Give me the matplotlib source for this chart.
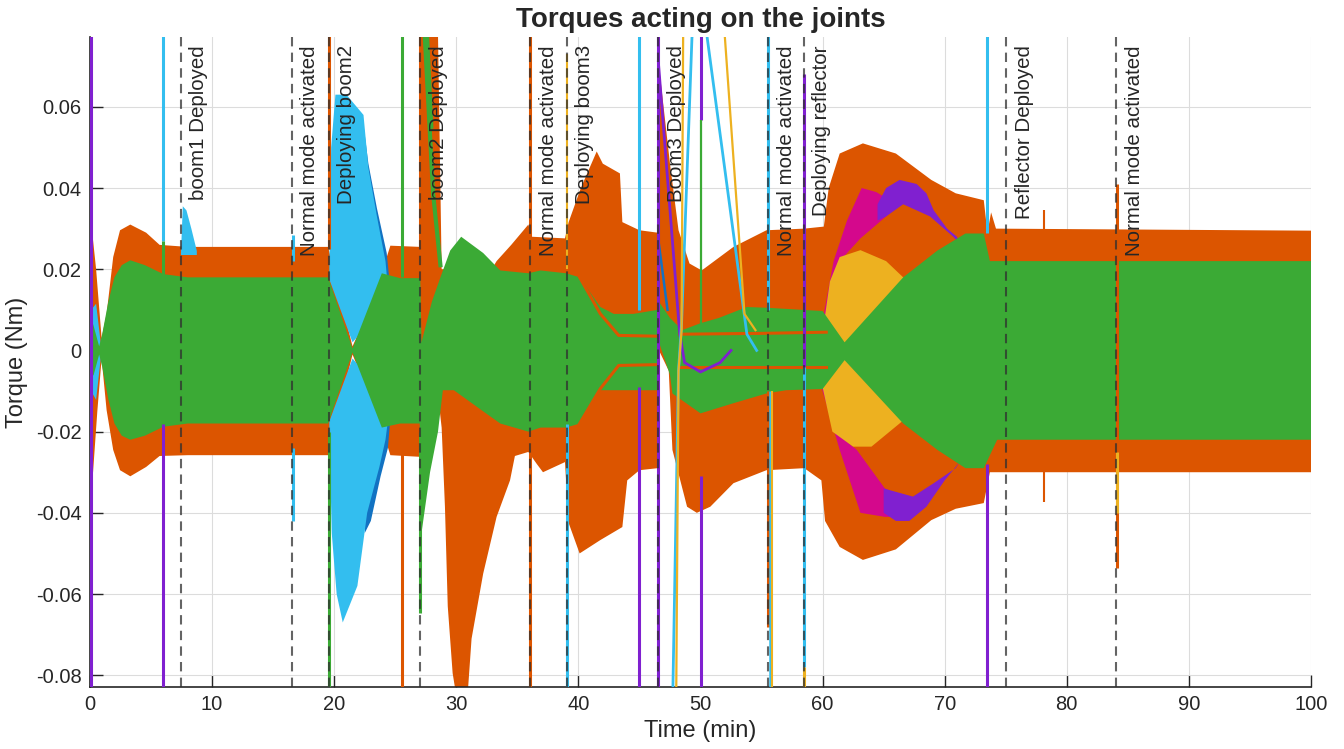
import numpy as np
import matplotlib
matplotlib.use("Agg")
import matplotlib.pyplot as plt

plt.rcParams['font.family'] = ['Liberation Sans', 'DejaVu Sans']

# ---- colours of the joint torque traces ----
C_ORANGE = '#DC5500'
C_GREEN = '#3BAA35'
C_LBLUE = '#33BEEF'
C_DBLUE = '#1272C2'
C_YELLOW = '#EDB120'
C_PURPLE = '#8020D0'
C_MAGENTA = '#D4088C'
TXT = '#262626'

# ---- event markers (min) ----
event_times = [7.45, 16.55, 19.55, 27.05, 36.05, 39.05, 46.55, 55.55, 58.45, 75.05, 84.05]
event_labels = ['boom1 Deployed', 'Normal mode activated', 'Deploying boom2',
                'boom2 Deployed', 'Normal mode activated', 'Deploying boom3',
                'Boom3 Deployed', 'Normal mode activated', 'Deploying reflector',
                'Reflector Deployed', 'Normal mode activated']

# ---- oscillation envelopes (time in min, torque in Nm) ----
orange_up_t = [0.0, 0.15, 0.5, 0.95, 1.36, 1.9, 2.46, 3.3, 4.6, 5.7, 8.0, 19.5, 21.5, 23.0, 24.2, 24.6,
               27.05, 27.1, 28.5, 28.75, 28.8, 32.9, 33.3, 34.5, 35.9, 36.2, 38.9, 39.2, 40.2, 41.5,
               42.0, 43.4, 43.6, 45.0, 46.5, 46.6, 47.5, 48.2, 49.1, 50.1, 52.7, 55.4, 58.5, 60.1,
               60.5, 61.4, 63.3, 66.0, 68.9, 70.9, 73.2, 73.5, 73.8, 74.2, 100.0]
orange_up = [0.0335, 0.030, 0.020, 0.003, 0.009, 0.023, 0.0296, 0.031, 0.029, 0.026, 0.0255, 0.0255,
             0.001, 0.011, 0.022, 0.0258, 0.0255, 0.078, 0.078, 0.030, 0.020, 0.020, 0.022, 0.026,
             0.031, 0.028, 0.0276, 0.0316, 0.040, 0.049, 0.046, 0.0436, 0.0316, 0.0296, 0.029,
             0.070, 0.046, 0.0296, 0.0214, 0.0197, 0.0255, 0.0296, 0.030, 0.0305, 0.040, 0.0485,
             0.051, 0.0485, 0.042, 0.0387, 0.037, 0.029, 0.034, 0.030, 0.0295]
orange_lo_t = [0.0, 0.1, 0.25, 0.6, 0.95, 1.36, 1.9, 2.46, 3.3, 4.6, 5.7, 8.0, 19.5, 21.5, 23.0, 24.2,
               24.6, 27.0, 27.1, 28.5, 28.8, 29.07, 29.3, 29.7, 30.05, 30.9, 31.25, 32.2, 33.3, 34.4,
               34.8, 35.9, 36.6, 37.1, 38.9, 39.2, 40.1, 41.8, 43.6, 44.0, 45.0, 46.5, 46.6, 47.4,
               47.7, 48.9, 49.7, 50.8, 52.7, 55.4, 58.5, 59.9, 60.2, 61.4, 63.3, 66.0, 68.9, 70.9,
               73.2, 73.7, 100.0]
orange_lo = [-0.012, -0.033, -0.030, -0.015, -0.002, -0.0147, -0.0245, -0.0295, -0.031, -0.0287,
             -0.026, -0.0258, -0.0258, -0.001, -0.012, -0.022, -0.0258, -0.0262, -0.012, -0.011,
             -0.019, -0.0385, -0.063, -0.0795, -0.086, -0.086, -0.071, -0.055, -0.041, -0.032,
             -0.026, -0.025, -0.028, -0.030, -0.0275, -0.0425, -0.050, -0.0467, -0.0435, -0.032,
             -0.0295, -0.029, 0.0, -0.005, -0.0245, -0.0385, -0.040, -0.0385, -0.0327, -0.0295,
             -0.029, -0.032, -0.042, -0.0484, -0.0516, -0.049, -0.0418, -0.039, -0.0376, -0.030,
             -0.030]

green_up_t = [0.0, 0.3, 0.75, 1.0, 1.5, 2.0, 2.6, 3.3, 4.5, 6.0, 8.0, 19.5, 21.5, 23.9, 25.4, 27.05,
              27.15, 28.0, 28.7, 29.5, 30.4, 32.2, 33.6, 35.9, 36.9, 39.0, 40.1, 41.8, 42.9, 44.5,
              46.5, 46.6, 47.5, 48.5, 50.0, 51.5, 53.8, 55.5, 60.0, 61.8, 66.6, 69.4, 71.7, 73.2,
              73.7, 100.0]
green_up = [0.009, 0.006, 0.001, 0.004, 0.012, 0.018, 0.021, 0.0222, 0.021, 0.0188, 0.018, 0.018,
            0.0005, 0.019, 0.0178, 0.0178, 0.002, 0.012, 0.018, 0.0246, 0.028, 0.024, 0.0197, 0.019,
            0.0197, 0.019, 0.018, 0.0107, 0.009, 0.009, 0.010, 0.012, 0.008, 0.005, 0.0067, 0.008,
            0.0107, 0.0105, 0.0097, 0.002, 0.018, 0.0246, 0.0288, 0.0288, 0.022, 0.022]
green_lo_t = [0.0, 0.3, 0.75, 1.0, 1.5, 2.0, 2.6, 3.3, 4.5, 6.0, 8.0, 19.5, 21.5, 23.9, 25.4, 27.0,
              27.15, 27.85, 28.5, 28.9, 29.8, 32.2, 33.6, 35.9, 36.9, 39.0, 40.1, 41.8, 46.5, 46.6,
              47.5, 47.7, 50.0, 52.7, 55.4, 57.0, 60.0, 61.8, 66.6, 69.4, 71.7, 73.2, 74.3, 100.0]
green_lo = [-0.0073, -0.006, -0.001, -0.004, -0.012, -0.018, -0.021, -0.022, -0.021, -0.0188,
            -0.018, -0.018, -0.0005, -0.019, -0.018, -0.018, -0.045, -0.030, -0.020, -0.0098,
            -0.0098, -0.015, -0.018, -0.020, -0.019, -0.019, -0.018, -0.0098, -0.0098, 0.002,
            -0.006, -0.0106, -0.0155, -0.013, -0.0106, -0.0098, -0.0095, -0.0024, -0.018, -0.0245,
            -0.029, -0.029, -0.022, -0.022]

# light blue bursts
lb_start_t = [0.0, 0.1, 0.5, 0.95]
lb_start_up = [0.002, 0.010, 0.0115, 0.0]
lb_start_lo = [-0.002, -0.010, -0.0122, 0.0]

lb_hump_t = [7.45, 7.6, 7.9, 8.3, 8.75]
lb_hump_up = [0.024, 0.0355, 0.0345, 0.030, 0.0245]
lb_hump_lo = [0.0235, 0.0235, 0.0235, 0.0235, 0.0235]

lb_pos_out_t = [19.6, 19.75, 20.1, 21.0, 22.4, 22.8, 23.5, 24.2, 24.5]
lb_pos_out = [0.020, 0.050, 0.063, 0.063, 0.058, 0.045, 0.033, 0.022, 0.012]
lb_pos_in_t = [19.6, 21.5, 24.5]
lb_pos_in = [0.0175, 0.002, 0.012]
lb_neg_out_t = [19.6, 19.8, 20.2, 20.7, 21.9, 22.7, 23.7, 24.2, 24.5]
lb_neg_out = [-0.020, -0.045, -0.060, -0.067, -0.058, -0.040, -0.0287, -0.022, -0.015]
lb_neg_in_t = [19.6, 21.5, 24.5]
lb_neg_in = [-0.0175, -0.002, -0.012]

db_pos_t = [22.3, 22.8, 23.5, 24.3, 24.7]
db_pos_out = [0.058, 0.046, 0.035, 0.024, 0.012]
db_pos_in = [0.030, 0.015, 0.010, 0.008, 0.006]
db_neg_t = [22.5, 23.0, 23.8, 24.4, 24.7]
db_neg_out = [-0.045, -0.042, -0.031, -0.024, -0.013]
db_neg_in = [-0.030, -0.015, -0.010, -0.008, -0.006]

# reflector deployment transients
mag_pos_out_t = [60.0, 60.9, 62.0, 63.2, 64.4, 65.5]
mag_pos_out = [0.0074, 0.022, 0.032, 0.040, 0.039, 0.037]
mag_pos_in_t = [60.0, 60.6, 61.4, 63.1, 65.2, 65.5]
mag_pos_in = [0.004, 0.012, 0.022, 0.0276, 0.033, 0.034]
mag_neg_out_t = [59.9, 61.4, 63.1, 65.1, 65.5]
mag_neg_out = [-0.009, -0.0245, -0.040, -0.041, -0.041]
mag_neg_in_t = [59.9, 60.8, 61.8, 62.8, 65.1, 65.5]
mag_neg_in = [-0.006, -0.019, -0.022, -0.0245, -0.034, -0.0345]

pur_pos_out_t = [64.5, 65.2, 66.3, 67.7, 68.5, 69.1, 70.2, 71.0, 71.3]
pur_pos_out = [0.036, 0.040, 0.042, 0.041, 0.0387, 0.0345, 0.030, 0.028, 0.026]
pur_pos_in_t = [64.5, 65.2, 66.6, 68.8, 70.7, 71.3]
pur_pos_in = [0.032, 0.033, 0.036, 0.033, 0.028, 0.026]
pur_neg_out_t = [65.0, 66.0, 67.1, 68.5, 70.0, 70.9, 71.3]
pur_neg_out = [-0.040, -0.042, -0.042, -0.0385, -0.032, -0.0287, -0.027]
pur_neg_in_t = [65.0, 67.4, 69.1, 70.9, 71.3]
pur_neg_in = [-0.034, -0.036, -0.0327, -0.029, -0.027]

yel_up_t = [59.7, 60.0, 60.6, 61.4, 63.1, 65.2, 66.6, 67.5]
yel_up = [0.002, 0.0043, 0.017, 0.023, 0.0247, 0.022, 0.018, 0.015]
yel_lo_t = [59.7, 60.8, 62.5, 64.0, 66.3, 67.5]
yel_lo = [-0.005, -0.020, -0.0237, -0.0237, -0.018, -0.015]

# inner orange component visible through the green band
ring1_t = [40.1, 41.8, 43.3, 46.5]
ring1_up = [0.018, 0.009, 0.0037, 0.0035]
ring1_lo = [-0.018, -0.0094, -0.0037, -0.0035]
ring2_t = [48.3, 55.0, 60.3]
ring2_up = [0.004, 0.0042, 0.0045]
ring2_lo = [-0.004, -0.004, -0.004]

# slow excursions after boom3 deployment
lb_line_t = [47.7, 48.2, 48.45, 49.3, 50.0, 50.55, 53.8, 54.6]
lb_line = [-0.09, -0.005, 0.0067, 0.077, 0.100, 0.077, 0.004, 0.0]
yel_line_t = [48.0, 48.2, 48.45, 48.6, 50.3, 52.0, 53.6, 54.5]
yel_line = [-0.09, -0.005, 0.005, 0.09, 0.15, 0.077, 0.009, 0.005]
pur_line_t = [46.55, 48.3, 48.7, 50.0, 51.6, 52.5]
pur_line = [0.071, 0.004, -0.003, -0.0053, -0.003, 0.0]
db_line_t = [46.6, 47.3]
db_line = [0.026, 0.010]
grn_line1_t = [27.2, 28.1, 28.7]
grn_line1 = [0.090, 0.0386, 0.021]
grn_line2_t = [27.45, 28.0]
grn_line2 = [0.090, 0.055]

# short impulsive spikes: time, low, high, colour, width
spike_t = [0.05, 6.0, 6.0, 6.0, 16.65, 16.65, 19.55, 19.55, 25.55, 25.55, 27.05, 27.05,
           36.05, 36.05, 39.1, 39.1, 45.0, 45.0, 46.55, 50.0, 50.0, 50.05, 55.55, 55.5,
           55.7, 55.85, 58.45, 58.45, 58.45, 73.5, 73.5, 84.15, 84.15, 78.1, 78.1]
spike_lo = [-0.09, 0.027, 0.018, -0.09, 0.022, -0.042, 0.025, -0.09, 0.018, -0.09, 0.025, -0.0647,
            0.028, -0.09, 0.020, -0.09, 0.010, -0.09, -0.09, 0.0567, 0.006, -0.09, 0.010, -0.068,
            -0.09, -0.09, -0.004, -0.078, -0.09, 0.029, -0.09, -0.0537, -0.040, -0.0373, 0.028]
spike_hi = [0.09, 0.09, 0.027, -0.018, 0.0285, -0.024, 0.09, -0.020, 0.09, -0.020, 0.09, -0.020,
            0.09, -0.025, 0.073, -0.018, 0.09, -0.009, 0.09, 0.09, 0.0567, -0.031, 0.09, -0.010,
            -0.010, -0.010, 0.068, -0.004, -0.078, 0.09, -0.028, 0.041, -0.025, -0.028, 0.0345]
spike_c = ['P', 'L', 'G', 'P', 'L', 'L', 'O', 'G', 'G', 'O', 'O', 'G',
           'O', 'O', 'Y', 'L', 'L', 'P', 'P', 'P', 'G', 'P', 'L', 'O',
           'L', 'Y', 'P', 'L', 'Y', 'L', 'P', 'O', 'Y', 'O', 'O']
spike_w = [2.2, 2.2, 2.2, 2.2, 2.2, 2.2, 2.2, 2.2, 2.2, 2.2, 2.2, 2.2,
           2.2, 2.2, 1.5, 2.2, 2.2, 2.2, 2.2, 2.2, 1.6, 2.2, 2.2, 2.2,
           1.8, 1.5, 2.2, 2.2, 2.2, 2.2, 2.2, 2.2, 2.2, 1.5, 1.5]
cmap = {'P': C_PURPLE, 'L': C_LBLUE, 'G': C_GREEN, 'O': C_ORANGE, 'Y': C_YELLOW}


def band(ax, t_hi, y_hi, t_lo, y_lo, color, z):
    """Fill the region between an upper and a lower envelope."""
    xs = np.concatenate([np.asarray(t_hi), np.asarray(t_lo)[::-1]])
    ys = np.concatenate([np.asarray(y_hi), np.asarray(y_lo)[::-1]])
    ax.fill(xs, ys, color=color, lw=0, zorder=z)


fig = plt.figure(figsize=(13.44, 7.49), dpi=100)
ax = fig.add_axes([90 / 1344, 1 - 687 / 749, (1311 - 90) / 1344, (687 - 37) / 749])

band(ax, orange_up_t, orange_up, orange_lo_t, orange_lo, C_ORANGE, 1.0)
band(ax, db_pos_t, db_pos_out, db_pos_t, db_pos_in, C_DBLUE, 1.5)
band(ax, db_neg_t, db_neg_in, db_neg_t, db_neg_out, C_DBLUE, 1.5)
band(ax, lb_start_t, lb_start_up, lb_start_t, lb_start_lo, C_LBLUE, 1.6)
band(ax, lb_hump_t, lb_hump_up, lb_hump_t, lb_hump_lo, C_LBLUE, 1.6)
band(ax, lb_pos_out_t, lb_pos_out, lb_pos_in_t, lb_pos_in, C_LBLUE, 1.6)
band(ax, lb_neg_in_t, lb_neg_in, lb_neg_out_t, lb_neg_out, C_LBLUE, 1.6)
band(ax, mag_pos_out_t, mag_pos_out, mag_pos_in_t, mag_pos_in, C_MAGENTA, 1.8)
band(ax, mag_neg_in_t, mag_neg_in, mag_neg_out_t, mag_neg_out, C_MAGENTA, 1.8)
band(ax, pur_pos_out_t, pur_pos_out, pur_pos_in_t, pur_pos_in, C_PURPLE, 1.9)
band(ax, pur_neg_in_t, pur_neg_in, pur_neg_out_t, pur_neg_out, C_PURPLE, 1.9)
band(ax, yel_up_t, yel_up, yel_lo_t, yel_lo, C_YELLOW, 2.0)
band(ax, green_up_t, green_up, green_lo_t, green_lo, C_GREEN, 3.0)

for tt, yy in [(ring1_t, ring1_up), (ring1_t, ring1_lo), (ring2_t, ring2_up), (ring2_t, ring2_lo)]:
    ax.plot(tt, yy, color=C_ORANGE, lw=2.2, zorder=3.2)

ax.plot(grn_line1_t, grn_line1, color=C_GREEN, lw=3.0, zorder=3.3)
ax.plot(grn_line2_t, grn_line2, color=C_GREEN, lw=2.2, zorder=3.3)
ax.plot(db_line_t, db_line, color=C_DBLUE, lw=1.8, zorder=3.3)
ax.plot(pur_line_t, pur_line, color=C_PURPLE, lw=2.0, zorder=3.4)
ax.plot(lb_line_t, lb_line, color=C_LBLUE, lw=2.0, zorder=3.5)
ax.plot(yel_line_t, yel_line, color=C_YELLOW, lw=1.6, zorder=3.5)

for t, lo, hi, c, w in zip(spike_t, spike_lo, spike_hi, spike_c, spike_w):
    ax.vlines(t, lo, hi, colors=cmap[c], lw=w, zorder=3.6)

for t, lab in zip(event_times, event_labels):
    ax.axvline(t, color='#303030', lw=1.5, ls=(0, (4.5, 3)), alpha=0.75, zorder=4)
    ax.annotate(lab, xy=(t, 1.0), xycoords=('data', 'axes fraction'),
                xytext=(6, -6), textcoords='offset points', rotation=90,
                ha='left', va='top', fontsize=14.8, color=TXT, zorder=5)

ax.set_xlim(0, 100)
ax.set_ylim(-0.0829, 0.0772)
ax.set_xticks(np.arange(0, 101, 10))
ax.set_yticks([-0.08, -0.06, -0.04, -0.02, 0, 0.02, 0.04, 0.06])
ax.set_yticklabels(['-0.08', '-0.06', '-0.04', '-0.02', '0', '0.02', '0.04', '0.06'])
ax.grid(True, color='#DCDCDC', lw=0.8)
ax.set_axisbelow(True)
ax.tick_params(direction='in', length=9, width=1.0, colors=TXT, labelsize=14.5, pad=6)
for s in ['top', 'right']:
    ax.spines[s].set_visible(False)
for s in ['left', 'bottom']:
    ax.spines[s].set_color(TXT)
    ax.spines[s].set_linewidth(1.2)

ax.set_xlabel('Time (min)', fontsize=17, color=TXT, labelpad=4)
ax.set_ylabel('Torque (Nm)', fontsize=17, color=TXT, labelpad=6)
ax.set_title('Torques acting on the joints', fontsize=20, fontweight='bold', color=TXT, pad=7)

fig.savefig('out.png', dpi=100)
